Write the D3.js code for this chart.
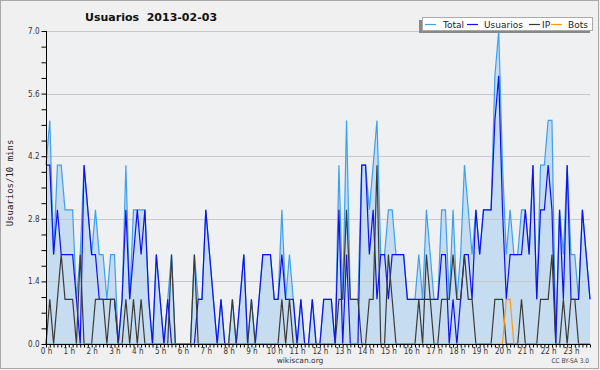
<!DOCTYPE html>
<html>
<head>
<meta charset="utf-8">
<script src="https://cdn.jsdelivr.net/npm/d3@7"></script>
<style>
  body { margin: 0; background: #f0f0f0; }
  svg { display: block; }
  .tick-label { font-family: "DejaVu Sans Condensed", "DejaVu Sans", sans-serif; font-stretch: condensed; font-size: 8px; fill: #333; }
</style>
</head>
<body>
<div id="chart"></div>
<script>
// one value per 10 minutes, 144 per day
var usuarios = [
    4, 4, 2, 3, 2, 2, 2, 2, 1, 0,
    4, 3, 2, 2, 1, 1, 1, 1, 1, 0,
    1, 3, 1, 2, 3, 2, 3, 1, 0, 2,
    1, 0, 1, 0, 0, 0, 0, 0, 0, 0,
    1, 1, 3, 2, 1, 0, 1, 0, 0, 0,
    0, 1, 2, 0, 0, 0, 1, 2, 2, 2,
    1, 1, 2, 1, 1, 1, 0, 1, 0, 0,
    1, 0, 0, 1, 1, 1, 0, 3, 0, 2,
    0, 0, 0, 4, 4, 2, 3, 1, 2, 2,
    1, 2, 2, 2, 2, 1, 1, 1, 1, 1,
    1, 1, 1, 1, 2, 2, 0, 1, 0, 1,
    2, 2, 1, 3, 2, 3, 3, 3, 5, 6,
    3, 1, 2, 2, 2, 2, 3, 2, 4, 1,
    3, 3, 4, 3, 0, 3, 1, 4, 1, 1,
    1, 3, 2, 1
];
var ip = [
    0, 1, 0, 1, 2, 1, 1, 1, 0, 2,
    0, 0, 0, 1, 1, 1, 0, 1, 1, 0,
    0, 1, 0, 1, 0, 1, 0, 0, 0, 0,
    0, 0, 0, 2, 0, 0, 0, 0, 0, 2,
    0, 0, 0, 0, 0, 0, 0, 0, 0, 1,
    0, 0, 0, 0, 1, 0, 0, 0, 0, 0,
    0, 0, 1, 0, 1, 0, 0, 0, 0, 0,
    0, 0, 0, 0, 0, 0, 0, 1, 1, 3,
    1, 1, 1, 0, 0, 1, 1, 4, 0, 0,
    2, 1, 0, 0, 0, 0, 0, 0, 1, 0,
    2, 1, 0, 0, 1, 1, 1, 2, 1, 1,
    2, 1, 1, 0, 0, 0, 0, 0, 1, 1,
    1, 0, 0, 0, 0, 1, 0, 0, 0, 0,
    1, 1, 1, 2, 0, 0, 1, 0, 1, 1,
    0, 0, 0, 0
];
var bots = [
    0, 0, 0, 0, 0, 0, 0, 0, 0, 0,
    0, 0, 0, 0, 0, 0, 0, 0, 0, 0,
    0, 0, 0, 0, 0, 0, 0, 0, 0, 0,
    0, 0, 0, 0, 0, 0, 0, 0, 0, 0,
    0, 0, 0, 0, 0, 0, 0, 0, 0, 0,
    0, 0, 0, 0, 0, 0, 0, 0, 0, 0,
    0, 0, 0, 0, 0, 0, 0, 0, 0, 0,
    0, 0, 0, 0, 0, 0, 0, 0, 0, 0,
    0, 0, 0, 0, 0, 0, 0, 0, 0, 0,
    0, 0, 0, 0, 0, 0, 0, 0, 0, 0,
    0, 0, 0, 0, 0, 0, 0, 0, 0, 0,
    0, 0, 0, 0, 0, 0, 0, 0, 0, 0,
    0, 1, 1, 0, 0, 0, 0, 0, 0, 0,
    0, 0, 0, 0, 0, 0, 0, 0, 0, 0,
    0, 0, 0, 0
];
var total = [
    4, 5, 2, 4, 4, 3, 3, 3, 1, 2,
    4, 3, 2, 3, 2, 2, 1, 2, 2, 0,
    1, 4, 1, 3, 3, 3, 3, 1, 0, 2,
    1, 0, 1, 2, 0, 0, 0, 0, 0, 2,
    1, 1, 3, 2, 1, 0, 1, 0, 0, 1,
    0, 1, 2, 0, 1, 0, 1, 2, 2, 2,
    1, 1, 3, 1, 2, 1, 0, 1, 0, 0,
    1, 0, 0, 1, 1, 1, 0, 4, 1, 5,
    1, 1, 1, 4, 4, 3, 4, 5, 2, 2,
    3, 3, 2, 2, 2, 1, 1, 1, 2, 1,
    3, 2, 1, 1, 3, 3, 1, 3, 1, 2,
    4, 3, 2, 3, 2, 3, 3, 3, 6, 7,
    4, 2, 3, 2, 2, 3, 3, 2, 4, 1,
    4, 4, 5, 5, 0, 3, 2, 4, 2, 2,
    1, 3, 2, 1
];

var hourLabels = d3.range(24).map(function (h) { return h + ' h'; });
var yTickValues = [0, 1.4, 2.8, 4.2, 5.6, 7.0];
var seriesNames = ['Total', 'Usuarios', 'IP', 'Bots'];
var seriesColors = ['#3da0f0', '#1010f0', '#3a3a3a', '#ff9a10'];

var W = 600, H = 370;
var plotLeft = 46, plotRight = 590, plotTop = 31, plotBottom = 344;

var svg = d3.select('#chart').append('svg')
    .attr('width', W).attr('height', H);

svg.append('rect')
    .attr('x', 0.5).attr('y', 0.5)
    .attr('width', W - 2).attr('height', H - 2)
    .attr('fill', '#f0f0f0').attr('stroke', '#a8a8a8');

svg.append('rect')
    .attr('x', plotLeft).attr('y', plotTop)
    .attr('width', plotRight - plotLeft).attr('height', plotBottom - plotTop)
    .attr('fill', '#eef0f2');

var x = d3.scaleLinear().domain([0, total.length - 1]).range([plotLeft, plotRight]);
var y = d3.scaleLinear().domain([0, 7]).range([plotBottom, plotTop]);

// area under Total
var area = d3.area()
    .x(function (d, i) { return x(i); })
    .y0(y(0))
    .y1(function (d) { return y(d); });
svg.append('path')
    .datum(total)
    .attr('d', area)
    .attr('fill', '#c6dcf0');

// grid
svg.append('g')
    .selectAll('line')
    .data(yTickValues.slice(1))
    .enter().append('line')
    .attr('x1', plotLeft).attr('x2', plotRight)
    .attr('y1', function (d) { return Math.round(y(d)) + 0.5; })
    .attr('y2', function (d) { return Math.round(y(d)) + 0.5; })
    .attr('stroke', '#c8c8c8')
    .attr('stroke-width', 1);

var line = d3.line()
    .x(function (d, i) { return x(i); })
    .y(function (d) { return y(d); });

[total, usuarios, ip, bots].forEach(function (s, k) {
    svg.append('path')
        .datum(s)
        .attr('d', line)
        .attr('fill', 'none')
        .attr('stroke', seriesColors[k])
        .attr('stroke-width', 1.2)
        .attr('stroke-linejoin', 'miter');
});

// y axis
var yAxis = d3.axisLeft(y)
    .tickValues(d3.range(0, 21).map(function (k) { return k * 0.35; }))
    .tickSize(5)
    .tickFormat(function (d) {
        var hit = yTickValues.find(function (v) { return Math.abs(v - d) < 1e-6; });
        return hit === undefined ? '' : hit.toFixed(1);
    });
var gy = svg.append('g')
    .attr('transform', 'translate(' + (plotLeft + 0.5) + ',0)')
    .call(yAxis);
gy.select('.domain').attr('stroke', '#000').attr('d', 'M0,' + plotTop + 'V' + plotBottom);
gy.selectAll('.tick line').attr('stroke', '#000');
gy.selectAll('.tick text').attr('class', 'tick-label').attr('x', -7).attr('dy', '0.32em');

// x axis
var xAxis = d3.axisBottom(x)
    .tickValues(d3.range(0, total.length))
    .tickSize(3)
    .tickFormat(function (d) {
        return d % 6 === 0 ? hourLabels[d / 6] : '';
    });
var gx = svg.append('g')
    .attr('transform', 'translate(0,' + (plotBottom + 0.5) + ')')
    .call(xAxis);
gx.select('.domain').attr('stroke', '#000').attr('d', 'M' + plotLeft + ',0H' + plotRight);
gx.selectAll('.tick line').attr('stroke', '#000');
gx.selectAll('.tick text').attr('class', 'tick-label').attr('y', 4).attr('dy', '0.71em');

// title
svg.append('text')
    .attr('x', 85).attr('y', 21)
    .attr('font-family', '"DejaVu Sans", sans-serif')
    .attr('font-weight', 'bold')
    .attr('font-size', 11)
    .attr('fill', '#111')
    .attr('xml:space', 'preserve')
    .text('Usuarios  2013-02-03');

// y label
svg.append('text')
    .attr('transform', 'translate(13,183) rotate(-90)')
    .attr('text-anchor', 'middle')
    .attr('font-family', '"DejaVu Sans Mono", monospace')
    .attr('font-size', 9)
    .attr('fill', '#222')
    .text('Usuarios/10 mins');

// footer
svg.append('text')
    .attr('x', 300).attr('y', 363)
    .attr('text-anchor', 'middle')
    .attr('font-family', '"DejaVu Sans", sans-serif')
    .attr('font-size', 7.5)
    .attr('fill', '#333')
    .text('wikiscan.org');
svg.append('text')
    .attr('x', 589).attr('y', 363)
    .attr('text-anchor', 'end')
    .attr('font-family', '"DejaVu Sans Condensed", "DejaVu Sans", sans-serif')
    .attr('font-stretch', 'condensed')
    .attr('font-size', 6.5)
    .attr('fill', '#444')
    .text('CC BY-SA 3.0');

// legend
var lg = svg.append('g');
lg.append('rect')
    .attr('x', 419).attr('y', 20).attr('width', 171).attr('height', 13)
    .attr('fill', '#888');
lg.append('rect')
    .attr('x', 422.5).attr('y', 17.5).attr('width', 170).attr('height', 13)
    .attr('fill', '#fff').attr('stroke', '#aaa');
var legendLineX = [425, 467, 529, 551];
var legendTextX = [443, 484, 542, 568];
seriesNames.forEach(function (name, k) {
    lg.append('line')
        .attr('x1', legendLineX[k]).attr('x2', legendLineX[k] + 11)
        .attr('y1', 24.5).attr('y2', 24.5)
        .attr('stroke', seriesColors[k]).attr('stroke-width', 1.2);
    lg.append('text')
        .attr('x', legendTextX[k]).attr('y', 28)
        .attr('font-family', '"DejaVu Sans", sans-serif')
        .attr('font-size', 9)
        .attr('fill', '#222')
        .text(name);
});
</script>
</body>
</html>
